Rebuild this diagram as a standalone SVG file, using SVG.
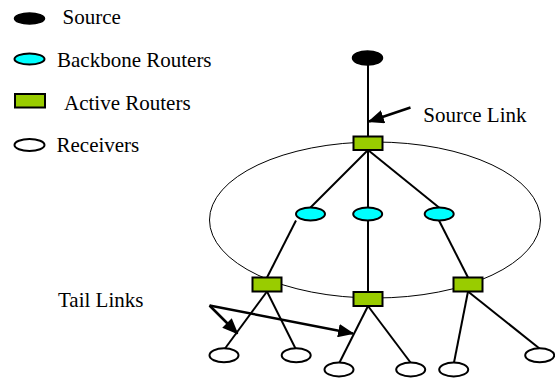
<svg xmlns="http://www.w3.org/2000/svg" width="555" height="378" viewBox="0 0 555 378">
  <style>
    .lbl { font-family: "Liberation Serif", "Times New Roman", serif; font-size: 21px; fill: #000; }
    .src { fill: #000; stroke: #000; stroke-width: 1.5; }
    .bb { fill: #00ffff; stroke: #000; stroke-width: 2; }
    .ar { fill: #99cc00; stroke: #000; stroke-width: 2; }
    .rx { fill: #fff; stroke: #000; stroke-width: 2; }
    .edge { stroke: #000; stroke-width: 2; fill: none; }
    .ptr { stroke: #000; stroke-width: 2.5; fill: none; }
  </style>
  <defs>
    <marker id="head" viewBox="0 0 12 10" refX="11" refY="5" markerWidth="6.5" markerHeight="5.4" orient="auto" markerUnits="strokeWidth">
      <path d="M0,0 L12,5 L0,10 Z" fill="#000"/>
    </marker>
  </defs>
  <rect width="555" height="378" fill="#fff"/>

  <!-- legend -->
  <g id="legend">
    <ellipse class="src" cx="29.5" cy="18.5" rx="15" ry="5.5"/>
    <text class="lbl" x="62.5" y="24">Source</text>
    <ellipse class="bb" cx="29.5" cy="59" rx="15" ry="5.5"/>
    <text class="lbl" x="57" y="66.5">Backbone Routers</text>
    <rect class="ar" x="15" y="94" width="30" height="13.5"/>
    <text class="lbl" x="64" y="110">Active Routers</text>
    <ellipse class="rx" cx="29.5" cy="145" rx="15" ry="6"/>
    <text class="lbl" x="56.5" y="151.5">Receivers</text>
  </g>

  <!-- backbone domain -->
  <ellipse id="domain" cx="375" cy="220" rx="165.5" ry="78" fill="none" stroke="#000" stroke-width="1"/>

  <!-- connectors -->
  <g id="connectors">
    <line class="edge" x1="368" y1="58" x2="368" y2="143"/>
    <line class="edge" x1="368" y1="150" x2="310.5" y2="207.5"/>
    <line class="edge" x1="368" y1="150" x2="368" y2="207.5"/>
    <line class="edge" x1="368" y1="150" x2="439" y2="207.5"/>
    <line class="edge" x1="296" y1="220.5" x2="267" y2="277.5"/>
    <line class="edge" x1="368" y1="220.5" x2="368" y2="292"/>
    <line class="edge" x1="439" y1="220.5" x2="468" y2="277.5"/>
    <line class="edge" x1="267" y1="291.5" x2="225" y2="348.5"/>
    <line class="edge" x1="267" y1="291.5" x2="295.5" y2="348.5"/>
    <line class="edge" x1="368" y1="306" x2="339.5" y2="362.5"/>
    <line class="edge" x1="368" y1="306" x2="410.5" y2="362.5"/>
    <line class="edge" x1="468" y1="291.5" x2="454" y2="362.5"/>
    <line class="edge" x1="468" y1="291.5" x2="539.5" y2="348.5"/>
    <!-- annotation pointers -->
    <line class="ptr" x1="410.5" y1="107.5" x2="369" y2="121.5" marker-end="url(#head)"/>
    <line class="ptr" x1="209.5" y1="305.5" x2="237.5" y2="333.5" marker-end="url(#head)"/>
    <line class="ptr" x1="209.5" y1="305.5" x2="353" y2="333.5" marker-end="url(#head)"/>
  </g>

  <!-- nodes -->
  <g id="source"><ellipse class="src" cx="367.5" cy="58" rx="15" ry="7"/></g>
  <g id="active-top"><rect class="ar" x="353.5" y="136.5" width="29" height="13.5"/></g>
  <g id="backbone-left"><ellipse class="bb" cx="310.5" cy="214" rx="14.5" ry="6.5"/></g>
  <g id="backbone-mid"><ellipse class="bb" cx="367.7" cy="214" rx="14.5" ry="6.5"/></g>
  <g id="backbone-right"><ellipse class="bb" cx="439.2" cy="214" rx="14.5" ry="6.5"/></g>
  <g id="active-left"><rect class="ar" x="252.5" y="277.5" width="29" height="14"/></g>
  <g id="active-mid"><rect class="ar" x="353.5" y="292" width="29" height="14"/></g>
  <g id="active-right"><rect class="ar" x="453.5" y="277.5" width="29" height="14"/></g>
  <g id="recv-1"><ellipse class="rx" cx="224" cy="355.3" rx="14.5" ry="7"/></g>
  <g id="recv-2"><ellipse class="rx" cx="296.2" cy="355.3" rx="14.5" ry="7"/></g>
  <g id="recv-3"><ellipse class="rx" cx="339" cy="369.5" rx="14.5" ry="7"/></g>
  <g id="recv-4"><ellipse class="rx" cx="410.7" cy="369.5" rx="14.5" ry="7"/></g>
  <g id="recv-5"><ellipse class="rx" cx="453.7" cy="369.5" rx="14.5" ry="7"/></g>
  <g id="recv-6"><ellipse class="rx" cx="539.7" cy="355.3" rx="14.5" ry="7"/></g>

  <!-- labels -->
  <text class="lbl" x="423.3" y="122.3">Source Link</text>
  <text class="lbl" x="58" y="306.5">Tail Links</text>
</svg>
